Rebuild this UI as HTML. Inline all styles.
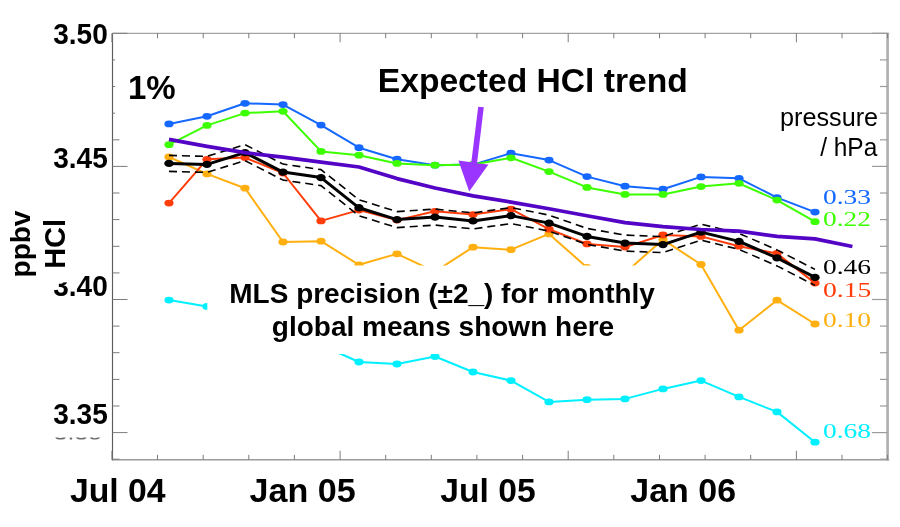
<!DOCTYPE html>
<html><head><meta charset="utf-8"><title>HCl trend</title>
<style>
html,body{margin:0;padding:0;background:#fff;}
body{width:900px;height:527px;overflow:hidden;position:relative;font-family:"Liberation Sans",sans-serif;}
svg{position:absolute;left:0;top:0;will-change:transform;}
text{font-family:"Liberation Sans",sans-serif;}
.b{font-weight:bold;}
text.ser{font-family:"Liberation Serif",serif;}
</style></head><body>
<svg width="900" height="527" viewBox="0 0 900 527">
<rect width="900" height="527" fill="#fff"/>
<!-- tick labels beneath boxes -->
<g class="b" font-size="28.6">
<text transform="translate(53.2,43.8) scale(0.98,1)">3.50</text>
<text transform="translate(53.2,167.8) scale(0.98,1)">3.45</text>
<text transform="translate(53.2,296) scale(0.98,1)">3.40</text>
<text transform="translate(53.2,424) scale(0.98,1)">3.35</text>
</g>
<clipPath id="gc"><rect x="40" y="437.4" width="80" height="2.2"/></clipPath>
<text x="53.5" y="439.8" font-size="25" fill="#6a6a6a" clip-path="url(#gc)">3.35</text>
<line x1="112.5" y1="33.3" x2="112.5" y2="460.40000000000003" stroke="#5c5c5c" stroke-width="1.15"/>
<line x1="112.5" y1="33.3" x2="889.3" y2="33.3" stroke="#8c8c8c" stroke-width="1.0"/>
<line x1="112.5" y1="459.8" x2="889.3" y2="459.8" stroke="#9a9a9a" stroke-width="1.5"/>
<line x1="887.1" y1="33.3" x2="887.1" y2="460.40000000000003" stroke="#8a8a8a" stroke-width="1.2"/>
<line x1="888.3" y1="33.3" x2="888.3" y2="460.40000000000003" stroke="#b4b4b4" stroke-width="1.3"/>
<g stroke="#7c7c7c" stroke-width="1.0"><line x1="112.5" y1="33.3" x2="127.5" y2="33.3"/><line x1="112.5" y1="59.9" x2="115.1" y2="59.9"/><line x1="112.5" y1="86.5" x2="115.1" y2="86.5"/><line x1="112.5" y1="113.2" x2="115.1" y2="113.2"/><line x1="112.5" y1="139.8" x2="119.5" y2="139.8"/><line x1="112.5" y1="166.4" x2="127.5" y2="166.4"/><line x1="112.5" y1="193.0" x2="119.5" y2="193.0"/><line x1="112.5" y1="219.6" x2="119.5" y2="219.6"/><line x1="112.5" y1="246.3" x2="119.5" y2="246.3"/><line x1="112.5" y1="272.9" x2="119.5" y2="272.9"/><line x1="112.5" y1="299.5" x2="127.5" y2="299.5"/><line x1="112.5" y1="326.1" x2="119.5" y2="326.1"/><line x1="112.5" y1="352.7" x2="119.5" y2="352.7"/><line x1="112.5" y1="379.4" x2="119.5" y2="379.4"/><line x1="112.5" y1="406.0" x2="119.5" y2="406.0"/><line x1="112.5" y1="432.6" x2="127.5" y2="432.6"/><line x1="112.5" y1="459.2" x2="119.5" y2="459.2"/><line x1="111.9" y1="459.8" x2="111.9" y2="450.8"/><line x1="111.9" y1="33.3" x2="111.9" y2="42.3"/><line x1="157.5" y1="459.8" x2="157.5" y2="454.8"/><line x1="157.5" y1="33.3" x2="157.5" y2="38.3"/><line x1="203.2" y1="459.8" x2="203.2" y2="454.8"/><line x1="203.2" y1="33.3" x2="203.2" y2="38.3"/><line x1="248.8" y1="459.8" x2="248.8" y2="454.8"/><line x1="248.8" y1="33.3" x2="248.8" y2="38.3"/><line x1="294.4" y1="459.8" x2="294.4" y2="454.8"/><line x1="294.4" y1="33.3" x2="294.4" y2="38.3"/><line x1="340.1" y1="459.8" x2="340.1" y2="450.8"/><line x1="340.1" y1="33.3" x2="340.1" y2="42.3"/><line x1="385.7" y1="459.8" x2="385.7" y2="454.8"/><line x1="385.7" y1="33.3" x2="385.7" y2="38.3"/><line x1="431.3" y1="459.8" x2="431.3" y2="454.8"/><line x1="431.3" y1="33.3" x2="431.3" y2="38.3"/><line x1="476.9" y1="459.8" x2="476.9" y2="454.8"/><line x1="476.9" y1="33.3" x2="476.9" y2="38.3"/><line x1="522.6" y1="459.8" x2="522.6" y2="454.8"/><line x1="522.6" y1="33.3" x2="522.6" y2="38.3"/><line x1="568.2" y1="459.8" x2="568.2" y2="450.8"/><line x1="568.2" y1="33.3" x2="568.2" y2="42.3"/><line x1="613.8" y1="459.8" x2="613.8" y2="454.8"/><line x1="613.8" y1="33.3" x2="613.8" y2="38.3"/><line x1="659.5" y1="459.8" x2="659.5" y2="454.8"/><line x1="659.5" y1="33.3" x2="659.5" y2="38.3"/><line x1="705.1" y1="459.8" x2="705.1" y2="454.8"/><line x1="705.1" y1="33.3" x2="705.1" y2="38.3"/><line x1="750.7" y1="459.8" x2="750.7" y2="454.8"/><line x1="750.7" y1="33.3" x2="750.7" y2="38.3"/><line x1="796.4" y1="459.8" x2="796.4" y2="450.8"/><line x1="796.4" y1="33.3" x2="796.4" y2="42.3"/><line x1="842.0" y1="459.8" x2="842.0" y2="454.8"/><line x1="842.0" y1="33.3" x2="842.0" y2="38.3"/><line x1="887.6" y1="459.8" x2="887.6" y2="454.8"/><line x1="887.6" y1="33.3" x2="887.6" y2="38.3"/></g>
<g stroke="#9c9c9c" stroke-width="1.2"><line x1="887.5" y1="33.3" x2="872.0" y2="33.3"/><line x1="887.5" y1="59.9" x2="880.0" y2="59.9"/><line x1="887.5" y1="86.5" x2="880.0" y2="86.5"/><line x1="887.5" y1="113.2" x2="880.0" y2="113.2"/><line x1="887.5" y1="139.8" x2="880.0" y2="139.8"/><line x1="887.5" y1="166.4" x2="872.0" y2="166.4"/><line x1="887.5" y1="193.0" x2="880.0" y2="193.0"/><line x1="887.5" y1="219.6" x2="880.0" y2="219.6"/><line x1="887.5" y1="246.3" x2="880.0" y2="246.3"/><line x1="887.5" y1="272.9" x2="880.0" y2="272.9"/><line x1="887.5" y1="299.5" x2="872.0" y2="299.5"/><line x1="887.5" y1="326.1" x2="880.0" y2="326.1"/><line x1="887.5" y1="352.7" x2="880.0" y2="352.7"/><line x1="887.5" y1="379.4" x2="880.0" y2="379.4"/><line x1="887.5" y1="406.0" x2="880.0" y2="406.0"/><line x1="887.5" y1="432.6" x2="872.0" y2="432.6"/><line x1="887.5" y1="459.2" x2="880.0" y2="459.2"/></g>
<polyline points="169,300.1 207,306.4 245,320.0 283,333.0 321,345.0 359,362.0 397,364.0 435,356.5 473,372.0 511,380.6 549,401.9 587,399.7 625,398.9 663,388.9 701,380.6 739,396.9 777,411.9 815,442.2" fill="none" stroke="#00f0ff" stroke-width="2.0" stroke-linejoin="round"/>
<ellipse cx="169" cy="300.1" rx="4.6" ry="3.4" fill="#00f0ff"/><ellipse cx="207" cy="306.4" rx="4.6" ry="3.4" fill="#00f0ff"/><ellipse cx="245" cy="320.0" rx="4.6" ry="3.4" fill="#00f0ff"/><ellipse cx="283" cy="333.0" rx="4.6" ry="3.4" fill="#00f0ff"/><ellipse cx="321" cy="345.0" rx="4.6" ry="3.4" fill="#00f0ff"/><ellipse cx="359" cy="362.0" rx="4.6" ry="3.4" fill="#00f0ff"/><ellipse cx="397" cy="364.0" rx="4.6" ry="3.4" fill="#00f0ff"/><ellipse cx="435" cy="356.5" rx="4.6" ry="3.4" fill="#00f0ff"/><ellipse cx="473" cy="372.0" rx="4.6" ry="3.4" fill="#00f0ff"/><ellipse cx="511" cy="380.6" rx="4.6" ry="3.4" fill="#00f0ff"/><ellipse cx="549" cy="401.9" rx="4.6" ry="3.4" fill="#00f0ff"/><ellipse cx="587" cy="399.7" rx="4.6" ry="3.4" fill="#00f0ff"/><ellipse cx="625" cy="398.9" rx="4.6" ry="3.4" fill="#00f0ff"/><ellipse cx="663" cy="388.9" rx="4.6" ry="3.4" fill="#00f0ff"/><ellipse cx="701" cy="380.6" rx="4.6" ry="3.4" fill="#00f0ff"/><ellipse cx="739" cy="396.9" rx="4.6" ry="3.4" fill="#00f0ff"/><ellipse cx="777" cy="411.9" rx="4.6" ry="3.4" fill="#00f0ff"/><ellipse cx="815" cy="442.2" rx="4.6" ry="3.4" fill="#00f0ff"/>

<polyline points="169,157.0 207,173.9 245,188.2 283,242.0 321,241.2 359,264.8 397,253.9 435,271.6 473,247.2 511,249.7 549,233.9 587,267.5 625,273.0 663,239.6 701,264.5 739,330.2 777,300.2 815,324.0" fill="none" stroke="#ffb010" stroke-width="2.0" stroke-linejoin="round"/>
<ellipse cx="169" cy="157.0" rx="4.6" ry="3.4" fill="#ffb010"/><ellipse cx="207" cy="173.9" rx="4.6" ry="3.4" fill="#ffb010"/><ellipse cx="245" cy="188.2" rx="4.6" ry="3.4" fill="#ffb010"/><ellipse cx="283" cy="242.0" rx="4.6" ry="3.4" fill="#ffb010"/><ellipse cx="321" cy="241.2" rx="4.6" ry="3.4" fill="#ffb010"/><ellipse cx="359" cy="264.8" rx="4.6" ry="3.4" fill="#ffb010"/><ellipse cx="397" cy="253.9" rx="4.6" ry="3.4" fill="#ffb010"/><ellipse cx="435" cy="271.6" rx="4.6" ry="3.4" fill="#ffb010"/><ellipse cx="473" cy="247.2" rx="4.6" ry="3.4" fill="#ffb010"/><ellipse cx="511" cy="249.7" rx="4.6" ry="3.4" fill="#ffb010"/><ellipse cx="549" cy="233.9" rx="4.6" ry="3.4" fill="#ffb010"/><ellipse cx="587" cy="267.5" rx="4.6" ry="3.4" fill="#ffb010"/><ellipse cx="625" cy="273.0" rx="4.6" ry="3.4" fill="#ffb010"/><ellipse cx="663" cy="239.6" rx="4.6" ry="3.4" fill="#ffb010"/><ellipse cx="701" cy="264.5" rx="4.6" ry="3.4" fill="#ffb010"/><ellipse cx="739" cy="330.2" rx="4.6" ry="3.4" fill="#ffb010"/><ellipse cx="777" cy="300.2" rx="4.6" ry="3.4" fill="#ffb010"/><ellipse cx="815" cy="324.0" rx="4.6" ry="3.4" fill="#ffb010"/>

<polyline points="169,123.9 207,116.3 245,103.3 283,104.6 321,125.1 359,147.7 397,159.2 435,165.2 473,164.6 511,153.2 549,160.1 587,176.6 625,186.2 663,189.2 701,176.9 739,178.3 777,197.6 815,212.1" fill="none" stroke="#1468ff" stroke-width="2.0" stroke-linejoin="round"/>
<ellipse cx="169" cy="123.9" rx="4.6" ry="3.4" fill="#1468ff"/><ellipse cx="207" cy="116.3" rx="4.6" ry="3.4" fill="#1468ff"/><ellipse cx="245" cy="103.3" rx="4.6" ry="3.4" fill="#1468ff"/><ellipse cx="283" cy="104.6" rx="4.6" ry="3.4" fill="#1468ff"/><ellipse cx="321" cy="125.1" rx="4.6" ry="3.4" fill="#1468ff"/><ellipse cx="359" cy="147.7" rx="4.6" ry="3.4" fill="#1468ff"/><ellipse cx="397" cy="159.2" rx="4.6" ry="3.4" fill="#1468ff"/><ellipse cx="435" cy="165.2" rx="4.6" ry="3.4" fill="#1468ff"/><ellipse cx="473" cy="164.6" rx="4.6" ry="3.4" fill="#1468ff"/><ellipse cx="511" cy="153.2" rx="4.6" ry="3.4" fill="#1468ff"/><ellipse cx="549" cy="160.1" rx="4.6" ry="3.4" fill="#1468ff"/><ellipse cx="587" cy="176.6" rx="4.6" ry="3.4" fill="#1468ff"/><ellipse cx="625" cy="186.2" rx="4.6" ry="3.4" fill="#1468ff"/><ellipse cx="663" cy="189.2" rx="4.6" ry="3.4" fill="#1468ff"/><ellipse cx="701" cy="176.9" rx="4.6" ry="3.4" fill="#1468ff"/><ellipse cx="739" cy="178.3" rx="4.6" ry="3.4" fill="#1468ff"/><ellipse cx="777" cy="197.6" rx="4.6" ry="3.4" fill="#1468ff"/><ellipse cx="815" cy="212.1" rx="4.6" ry="3.4" fill="#1468ff"/>

<polyline points="169,144.7 207,125.4 245,113.1 283,111.3 321,151.4 359,155.2 397,163.4 435,165.2 473,164.5 511,157.8 549,171.6 587,187.4 625,194.4 663,194.4 701,186.6 739,183.3 777,200.1 815,221.7" fill="none" stroke="#3cff00" stroke-width="2.0" stroke-linejoin="round"/>
<ellipse cx="169" cy="144.7" rx="4.6" ry="3.4" fill="#3cff00"/><ellipse cx="207" cy="125.4" rx="4.6" ry="3.4" fill="#3cff00"/><ellipse cx="245" cy="113.1" rx="4.6" ry="3.4" fill="#3cff00"/><ellipse cx="283" cy="111.3" rx="4.6" ry="3.4" fill="#3cff00"/><ellipse cx="321" cy="151.4" rx="4.6" ry="3.4" fill="#3cff00"/><ellipse cx="359" cy="155.2" rx="4.6" ry="3.4" fill="#3cff00"/><ellipse cx="397" cy="163.4" rx="4.6" ry="3.4" fill="#3cff00"/><ellipse cx="435" cy="165.2" rx="4.6" ry="3.4" fill="#3cff00"/><ellipse cx="473" cy="164.5" rx="4.6" ry="3.4" fill="#3cff00"/><ellipse cx="511" cy="157.8" rx="4.6" ry="3.4" fill="#3cff00"/><ellipse cx="549" cy="171.6" rx="4.6" ry="3.4" fill="#3cff00"/><ellipse cx="587" cy="187.4" rx="4.6" ry="3.4" fill="#3cff00"/><ellipse cx="625" cy="194.4" rx="4.6" ry="3.4" fill="#3cff00"/><ellipse cx="663" cy="194.4" rx="4.6" ry="3.4" fill="#3cff00"/><ellipse cx="701" cy="186.6" rx="4.6" ry="3.4" fill="#3cff00"/><ellipse cx="739" cy="183.3" rx="4.6" ry="3.4" fill="#3cff00"/><ellipse cx="777" cy="200.1" rx="4.6" ry="3.4" fill="#3cff00"/><ellipse cx="815" cy="221.7" rx="4.6" ry="3.4" fill="#3cff00"/>

<polyline points="169,203.1 207,159.3 245,157.6 283,173.0 321,220.9 359,210.1 397,220.1 435,211.3 473,214.6 511,209.2 549,229.2 587,243.9 625,247.1 663,235.0 701,236.4 739,246.2 777,253.5 815,283.1" fill="none" stroke="#ff3c0a" stroke-width="2.0" stroke-linejoin="round"/>
<ellipse cx="169" cy="203.1" rx="4.6" ry="3.4" fill="#ff3c0a"/><ellipse cx="207" cy="159.3" rx="4.6" ry="3.4" fill="#ff3c0a"/><ellipse cx="245" cy="157.6" rx="4.6" ry="3.4" fill="#ff3c0a"/><ellipse cx="283" cy="173.0" rx="4.6" ry="3.4" fill="#ff3c0a"/><ellipse cx="321" cy="220.9" rx="4.6" ry="3.4" fill="#ff3c0a"/><ellipse cx="359" cy="210.1" rx="4.6" ry="3.4" fill="#ff3c0a"/><ellipse cx="397" cy="220.1" rx="4.6" ry="3.4" fill="#ff3c0a"/><ellipse cx="435" cy="211.3" rx="4.6" ry="3.4" fill="#ff3c0a"/><ellipse cx="473" cy="214.6" rx="4.6" ry="3.4" fill="#ff3c0a"/><ellipse cx="511" cy="209.2" rx="4.6" ry="3.4" fill="#ff3c0a"/><ellipse cx="549" cy="229.2" rx="4.6" ry="3.4" fill="#ff3c0a"/><ellipse cx="587" cy="243.9" rx="4.6" ry="3.4" fill="#ff3c0a"/><ellipse cx="625" cy="247.1" rx="4.6" ry="3.4" fill="#ff3c0a"/><ellipse cx="663" cy="235.0" rx="4.6" ry="3.4" fill="#ff3c0a"/><ellipse cx="701" cy="236.4" rx="4.6" ry="3.4" fill="#ff3c0a"/><ellipse cx="739" cy="246.2" rx="4.6" ry="3.4" fill="#ff3c0a"/><ellipse cx="777" cy="253.5" rx="4.6" ry="3.4" fill="#ff3c0a"/><ellipse cx="815" cy="283.1" rx="4.6" ry="3.4" fill="#ff3c0a"/>

<polyline points="169,155.4 207,156.4 245,144.6 283,164.1 321,169.6 359,199.8 397,211.6 435,209.1 473,212.9 511,207.6 549,215.1 587,228.4 625,235.1 663,236.6 701,224.1 739,233.4 777,249.9 815,269.4" fill="none" stroke="#000" stroke-width="1.6" stroke-dasharray="8 5"/>
<polyline points="169,171.4 207,172.4 245,160.6 283,180.1 321,185.6 359,215.8 397,227.6 435,225.1 473,228.9 511,223.6 549,231.1 587,244.4 625,251.1 663,252.6 701,240.1 739,249.4 777,265.9 815,285.4" fill="none" stroke="#000" stroke-width="1.6" stroke-dasharray="8 5"/>
<polyline points="169,163.4 207,164.4 245,152.6 283,172.1 321,177.6 359,207.8 397,219.6 435,217.1 473,220.9 511,215.6 549,223.1 587,236.4 625,243.1 663,244.6 701,232.1 739,241.4 777,257.9 815,277.4" fill="none" stroke="#000" stroke-width="3" stroke-linejoin="round"/>
<ellipse cx="169" cy="163.4" rx="4.7" ry="3.7" fill="#000"/><ellipse cx="207" cy="164.4" rx="4.7" ry="3.7" fill="#000"/><ellipse cx="245" cy="152.6" rx="4.7" ry="3.7" fill="#000"/><ellipse cx="283" cy="172.1" rx="4.7" ry="3.7" fill="#000"/><ellipse cx="321" cy="177.6" rx="4.7" ry="3.7" fill="#000"/><ellipse cx="359" cy="207.8" rx="4.7" ry="3.7" fill="#000"/><ellipse cx="397" cy="219.6" rx="4.7" ry="3.7" fill="#000"/><ellipse cx="435" cy="217.1" rx="4.7" ry="3.7" fill="#000"/><ellipse cx="473" cy="220.9" rx="4.7" ry="3.7" fill="#000"/><ellipse cx="511" cy="215.6" rx="4.7" ry="3.7" fill="#000"/><ellipse cx="549" cy="223.1" rx="4.7" ry="3.7" fill="#000"/><ellipse cx="587" cy="236.4" rx="4.7" ry="3.7" fill="#000"/><ellipse cx="625" cy="243.1" rx="4.7" ry="3.7" fill="#000"/><ellipse cx="663" cy="244.6" rx="4.7" ry="3.7" fill="#000"/><ellipse cx="701" cy="232.1" rx="4.7" ry="3.7" fill="#000"/><ellipse cx="739" cy="241.4" rx="4.7" ry="3.7" fill="#000"/><ellipse cx="777" cy="257.9" rx="4.7" ry="3.7" fill="#000"/><ellipse cx="815" cy="277.4" rx="4.7" ry="3.7" fill="#000"/>

<polyline points="169,139.4 207,146.4 245,152.7 283,157.2 321,162.2 359,167 397,178.6 435,188 473,195.9 511,202.1 549,208.8 587,215.8 625,222.6 663,226.6 701,229.5 739,231.1 777,236.4 815,238.9 852.4,246.5" fill="none" stroke="#5404c4" stroke-width="3.7" stroke-linejoin="round"/>
<polygon points="478.2,106.8 483.8,107.2 477,163.2 488.4,164.6 469.2,191.5 458.4,160.4 471.3,162.2" fill="#9a35ff"/>
<rect x="207.3" y="265.5" width="472" height="88.5" fill="#fff"/>
<rect x="0" y="200" width="72" height="82.4" fill="#fff"/>
<text class="b" font-size="28" transform="translate(30.2,244) rotate(-90)" text-anchor="middle">ppbv</text>
<text class="b" font-size="29" transform="translate(64.8,243.9) rotate(-90)" text-anchor="middle">HCl</text>
<text class="b" font-size="33" x="128" y="99">1%</text>
<text class="b" font-size="33.5" transform="translate(377.8,92.1) scale(1.003,1)">Expected HCl trend</text>
<text font-size="25.3" transform="translate(878.1,126.3) scale(0.996,1)" text-anchor="end">pressure</text>
<text font-size="25.3" transform="translate(877.3,155.5) scale(0.968,1)" text-anchor="end">/ hPa</text>
<text class="b" font-size="27" transform="translate(442.1,303.4) scale(1.036,1)" text-anchor="middle">MLS precision (±2_) for monthly</text>
<text class="b" font-size="27" transform="translate(443,336.4) scale(1.038,1)" text-anchor="middle">global means shown here</text>
<g class="b" font-size="32.4">
<text transform="translate(117.8,502) scale(1.042,1)" text-anchor="middle">Jul 04</text>
<text transform="translate(302.6,502) scale(1.052,1)" text-anchor="middle">Jan 05</text>
<text transform="translate(488,502) scale(1.038,1)" text-anchor="middle">Jul 05</text>
<text transform="translate(683.2,502) scale(1.048,1)" text-anchor="middle">Jan 06</text>
</g>
<g font-size="20">
<text class="ser" x="823" y="204" fill="#1468ff" textLength="48" lengthAdjust="spacingAndGlyphs">0.33</text>
<text class="ser" x="823" y="225.5" fill="#3cff00" textLength="48" lengthAdjust="spacingAndGlyphs">0.22</text>
<text class="ser" x="823" y="274" fill="#000" textLength="48" lengthAdjust="spacingAndGlyphs">0.46</text>
<text class="ser" x="823" y="296.9" fill="#ff3c0a" textLength="48.4" lengthAdjust="spacingAndGlyphs">0.15</text>
<text class="ser" x="823" y="326.5" fill="#ffb010" textLength="48" lengthAdjust="spacingAndGlyphs">0.10</text>
<text class="ser" x="823" y="437.7" fill="#00f0ff" textLength="48" lengthAdjust="spacingAndGlyphs">0.68</text>
</g>
</svg>
</body></html>
